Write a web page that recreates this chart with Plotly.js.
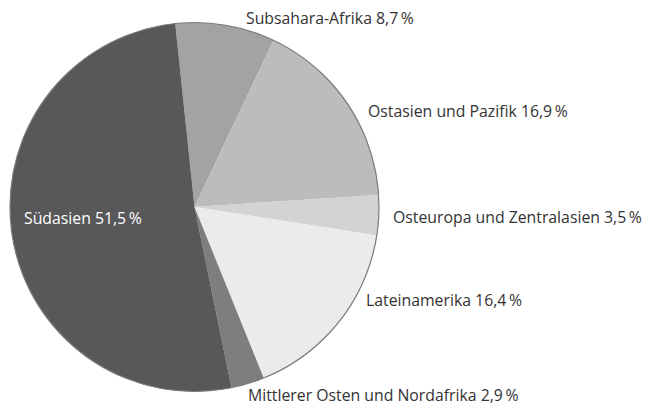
<!DOCTYPE html>
<html>
<head>
<meta charset="utf-8">
<script src="https://cdn.plot.ly/plotly-3.0.1.min.js"></script>
<style>html,body{margin:0;padding:0;background:#fff;}#chart{width:646px;height:408px;}</style>
</head>
<body>
<div id="chart"></div>
<script>
const regions = ["Subsahara-Afrika", "Ostasien und Pazifik", "Osteuropa und Zentralasien", "Lateinamerika", "Mittlerer Osten und Nordafrika", "Südasien"];
const shares = [8.7, 16.9, 3.5, 16.4, 2.9, 51.5];
const sliceColors = ["#a3a3a5", "#bcbcbe", "#d3d3d5", "#ebebeb", "#7e7e80", "#58585a"];
// label anchor positions (paper fractions) for each region label
const labelX = [0.378, 0.567, 0.605, 0.563, 0.381, 0.034];
const labelY = [0.955, 0.728, 0.468, 0.265, 0.0, 0.465];
const labelAnchorY = ["middle", "middle", "middle", "middle", "bottom", "middle"];
const labelColor = ["#333", "#333", "#333", "#333", "#333", "#fff"];

const fmt = v => v.toFixed(1).replace('.', ',') + '\u2009%';

const domX = [10/646, 379/646];
const domY = [16.5/408, 385.5/408];

const data = [
  {
    type: 'pie',
    values: shares,
    labels: regions,
    sort: false,
    direction: 'clockwise',
    rotation: -6,
    marker: {colors: sliceColors, line: {width: 0}},
    textinfo: 'none',
    hoverinfo: 'label+percent',
    domain: {x: domX, y: domY},
    showlegend: false
  },
  {
    type: 'pie',
    values: [1],
    labels: ['outline'],
    sort: false,
    marker: {colors: ['rgba(0,0,0,0)'], line: {width: 1.2, color: '#7a7a7a'}},
    textinfo: 'none',
    hoverinfo: 'skip',
    domain: {x: domX, y: domY},
    showlegend: false
  }
];

const annotations = regions.map((r, i) => ({
  xref: 'paper', yref: 'paper',
  x: labelX[i], y: labelY[i],
  xanchor: 'left', yanchor: labelAnchorY[i],
  text: r + ' ' + fmt(shares[i]),
  showarrow: false,
  font: {family: 'Open Sans, sans-serif', size: 15.8, color: labelColor[i]}
}));

const layout = {
  width: 646, height: 408,
  margin: {l: 0, r: 0, t: 0, b: 0},
  paper_bgcolor: '#fff',
  annotations: annotations,
  showlegend: false
};

Plotly.newPlot('chart', data, layout, {displayModeBar: false, staticPlot: true});
</script>
</body>
</html>
